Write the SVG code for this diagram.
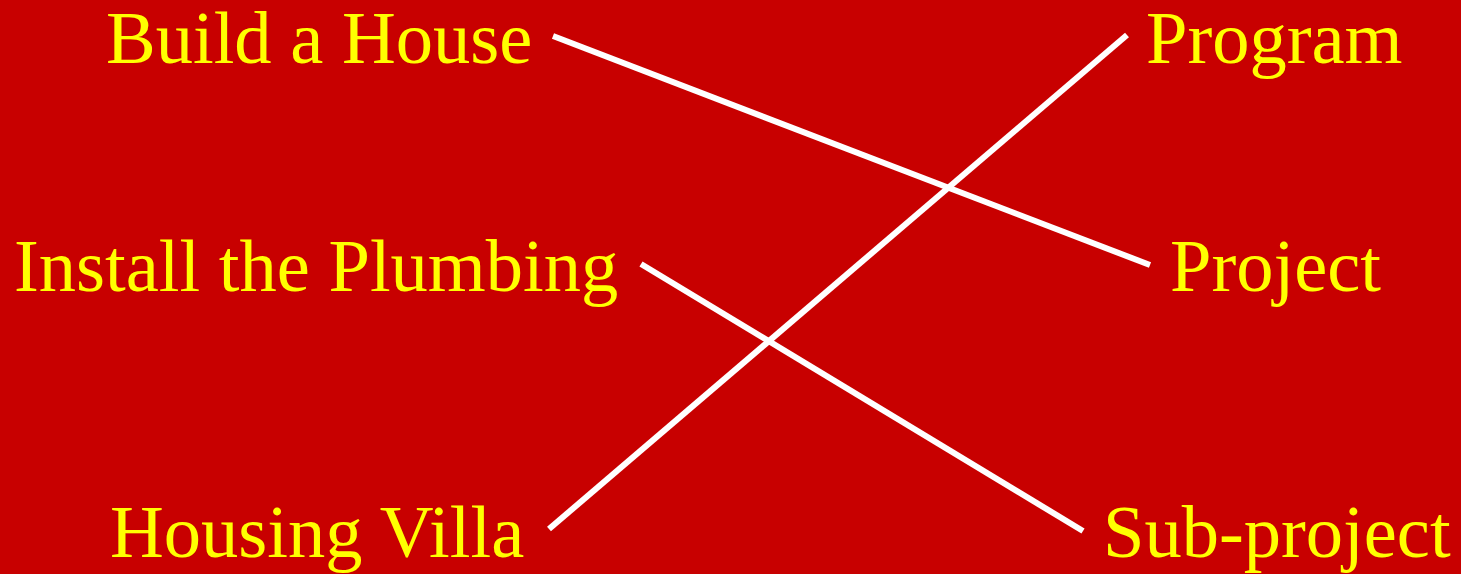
<svg xmlns="http://www.w3.org/2000/svg" width="1461" height="574" viewBox="0 0 1461 574">
<style>
.t{font-family:"Liberation Serif","Times New Roman",serif;font-size:74.5px;fill:#FFFF00}
.c{stroke:#FFFFFF;stroke-width:6;fill:none}
</style>
<rect x="0" y="0" width="1461" height="574" fill="#C80000"/>
<g id="connectors">
<line class="c" x1="553" y1="36" x2="1150" y2="265"/>
<line class="c" x1="1127" y1="35" x2="549" y2="529"/>
<line class="c" x1="641" y1="264" x2="1083" y2="531"/>
</g>
<g id="build"><text class="t" x="106" y="63">Build a House</text></g>
<g id="install"><text class="t" x="14" y="291">Install the Plumbing</text></g>
<g id="housing"><text class="t" x="110" y="557">Housing Villa</text></g>
<g id="program"><text class="t" x="1146" y="63">Program</text></g>
<g id="project"><text class="t" x="1170" y="291">Project</text></g>
<g id="subproject"><text class="t" x="1103" y="557">Sub-project</text></g>
</svg>
